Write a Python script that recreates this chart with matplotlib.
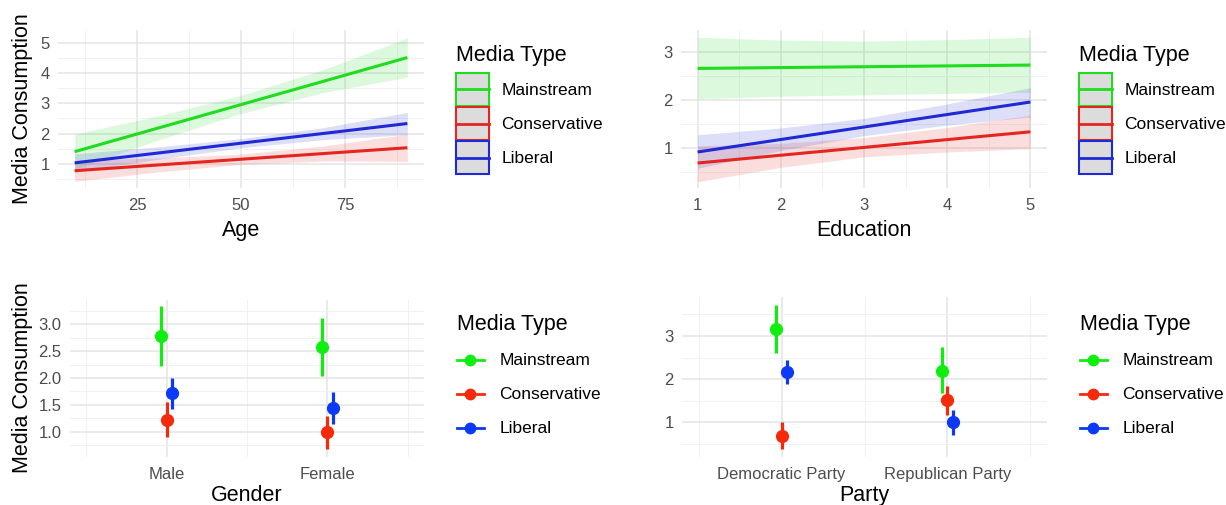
import numpy as np
import matplotlib.pyplot as plt
from matplotlib.patches import Patch, Rectangle
from matplotlib.lines import Line2D
from matplotlib.legend_handler import HandlerBase

plt.rcParams['font.family'] = ['Liberation Sans', 'DejaVu Sans']

#### DATA #####
media_types = ['Mainstream', 'Conservative', 'Liberal']
line_colors = ['#1fdc1f', '#e4261f', '#1f2ad6']
point_colors = ['#10ee10', '#f52a0a', '#0a3af5']

# Age panel: fitted lines (end points) and confidence bands
age_fit_x = [10, 90]
age_main_fit = [1.40, 4.51]
age_con_fit = [0.77, 1.53]
age_lib_fit = [1.03, 2.33]
age_band_x = [10, 30, 50, 70, 90]
age_main_lo = [0.82, 1.78, 2.66, 3.36, 3.86]
age_main_hi = [1.98, 2.58, 3.26, 4.12, 5.16]
age_con_lo = [0.42, 0.73, 0.98, 1.09, 1.08]
age_con_hi = [1.12, 1.19, 1.32, 1.59, 1.98]
age_lib_lo = [0.73, 1.15, 1.53, 1.80, 1.96]
age_lib_hi = [1.33, 1.56, 1.83, 2.20, 2.70]

# Education panel
edu_fit_x = [1, 5]
edu_main_fit = [2.66, 2.73]
edu_con_fit = [0.69, 1.34]
edu_lib_fit = [0.92, 1.96]
edu_band_x = [1, 2, 3, 4, 5]
edu_main_lo = [2.03, 2.08, 2.11, 2.14, 2.16]
edu_main_hi = [3.31, 3.25, 3.23, 3.26, 3.31]
edu_con_lo = [0.30, 0.60, 0.82, 0.92, 0.99]
edu_con_hi = [1.05, 1.10, 1.22, 1.43, 1.69]
edu_lib_lo = [0.58, 0.95, 1.26, 1.48, 1.65]
edu_lib_hi = [1.28, 1.42, 1.62, 1.92, 2.26]

# Gender panel: estimates with intervals
genders = ['Male', 'Female']
gender_main = [2.78, 2.58]
gender_main_lo = [2.22, 2.03]
gender_main_hi = [3.33, 3.12]
gender_con = [1.22, 0.99]
gender_con_lo = [0.90, 0.68]
gender_con_hi = [1.55, 1.30]
gender_lib = [1.72, 1.45]
gender_lib_lo = [1.43, 1.15]
gender_lib_hi = [2.00, 1.73]

# Party panel
parties = ['Democratic Party', 'Republican Party']
party_main = [3.17, 2.20]
party_main_lo = [2.60, 1.67]
party_main_hi = [3.72, 2.75]
party_con = [0.68, 1.52]
party_con_lo = [0.38, 1.18]
party_con_hi = [1.00, 1.85]
party_lib = [2.17, 1.00]
party_lib_lo = [1.88, 0.72]
party_lib_hi = [2.45, 1.28]

W, H = 1226, 505
fig = plt.figure(figsize=(W / 100, H / 100), dpi=100)


class BoxKey(HandlerBase):
	"""ggplot style key: grey box with coloured border and a line through the middle"""
	def create_artists(self, legend, orig_handle, xdescent, ydescent, width, height, fontsize, trans):
		c = orig_handle.get_edgecolor()
		rect = Rectangle((-xdescent, -ydescent), width, height, facecolor='#dcdcdc',
			edgecolor=c, lw=1.5, transform=trans)
		ymid = -ydescent + height / 2
		line = Line2D([-xdescent, -xdescent + width], [ymid, ymid], color=c, lw=2, transform=trans)
		return [rect, line]


class PointKey(HandlerBase):
	"""Horizontal line with a dot in the middle"""
	def create_artists(self, legend, orig_handle, xdescent, ydescent, width, height, fontsize, trans):
		c = orig_handle.get_color()
		ymid = -ydescent + height / 2
		line = Line2D([-xdescent, -xdescent + width], [ymid, ymid], color=c, lw=2, transform=trans)
		dot = Line2D([-xdescent + width / 2], [ymid], color=c, marker='o', ms=7.5,
			ls='none', transform=trans)
		return [line, dot]


def px_axes(left, top, right, bottom):
	return fig.add_axes([left / W, 1 - bottom / H, (right - left) / W, (bottom - top) / H])


def style(ax, xlim, ylim, ymaj, ymin, xmaj=None, xmin=None, xlabels=None):
	ax.set_xlim(xlim)
	ax.set_ylim(ylim)
	ax.set_yticks(ymaj)
	ax.set_yticks(ymin, minor=True)
	if xmaj is not None:
		ax.set_xticks(xmaj)
		if xlabels is not None:
			ax.set_xticklabels(xlabels)
	if xmin is not None:
		ax.set_xticks(xmin, minor=True)
	ax.grid(which='major', color='#e4e4e4', lw=1.1)
	ax.grid(which='minor', color='#efefef', lw=0.6)
	ax.set_axisbelow(True)
	for s in ax.spines.values():
		s.set_visible(False)
	ax.tick_params(which='both', length=0, labelsize=12, labelcolor='#4d4d4d')
	ax.tick_params(axis='x', pad=7.5)
	ax.tick_params(axis='y', pad=6)


def xlabel(ax, text, cx, top):
	ax.set_xlabel(text, fontsize=15.5)
	ax.xaxis.set_label_coords(cx / W, 1 - top / H, transform=fig.transFigure)


def ylabel(ax, text, right, cy):
	ax.set_ylabel(text, fontsize=15.5)
	ax.yaxis.set_label_coords(right / W, 1 - cy / H, transform=fig.transFigure)


def band_panel(ax, fit_x, fits, band_x, los, his):
	for lo, hi, c in zip(los, his, line_colors):
		ax.fill_between(band_x, lo, hi, color=c, alpha=0.15, lw=0)
	for f, c in zip(fits, line_colors):
		ax.plot(fit_x, f, color=c, lw=2.2, solid_capstyle='butt')


def point_panel(ax, ests, los, his):
	pos = np.arange(1, 3)
	offsets = [-0.034, 0.0, 0.034]
	for est, lo, hi, c, off in zip(ests, los, his, point_colors, offsets):
		est = np.array(est)
		err = [est - np.array(lo), np.array(hi) - est]
		ax.errorbar(pos + off, est, yerr=err, fmt='o', color=c, ms=8.5,
			elinewidth=2.3, capsize=0)


def media_legend(ax, handles, handler, hlen, pad, x, y, sep):
	leg = ax.legend(handles, media_types, title='Media Type', loc='upper left',
		bbox_to_anchor=(x / W, 1 - y / H), bbox_transform=fig.transFigure,
		frameon=False, fontsize=12.5, title_fontsize=15.5, handlelength=hlen,
		handleheight=2.55, labelspacing=0.06, handletextpad=pad, borderpad=0,
		borderaxespad=0, alignment='left', handler_map={type(handles[0]): handler})
	# extra room between title and keys, like ggplot
	leg._legend_box.sep = sep
	return leg


def band_legend(ax, x, y):
	handles = [Patch(facecolor='#dcdcdc', edgecolor=c) for c in line_colors]
	media_legend(ax, handles, BoxKey(), 1.9, 0.7, x, y, 5)


def point_legend(ax, x, y):
	handles = [Line2D([], [], color=c) for c in point_colors]
	media_legend(ax, handles, PointKey(), 1.55, 0.9, x, y, 6)


# Age
ax1 = px_axes(58, 30, 424, 188)
band_panel(ax1, age_fit_x, [age_main_fit, age_con_fit, age_lib_fit], age_band_x,
	[age_main_lo, age_con_lo, age_lib_lo], [age_main_hi, age_con_hi, age_lib_hi])
style(ax1, (6, 94), (0.2, 5.42), [1, 2, 3, 4, 5], [0.5, 1.5, 2.5, 3.5, 4.5],
	[25, 50, 75], [12.5, 37.5, 62.5, 87.5])
xlabel(ax1, 'Age', 241, 220)
ylabel(ax1, 'Media Consumption', 33, 109)
band_legend(ax1, 456, 45)

# Education
ax2 = px_axes(681, 30, 1047, 188)
band_panel(ax2, edu_fit_x, [edu_main_fit, edu_con_fit, edu_lib_fit], edu_band_x,
	[edu_main_lo, edu_con_lo, edu_lib_lo], [edu_main_hi, edu_con_hi, edu_lib_hi])
style(ax2, (0.8, 5.2), (0.17, 3.46), [1, 2, 3], [0.5, 1.5, 2.5],
	[1, 2, 3, 4, 5], [1.5, 2.5, 3.5, 4.5])
xlabel(ax2, 'Education', 864, 220)
band_legend(ax2, 1079, 45)

# Gender
ax3 = px_axes(70, 300, 424, 457)
point_panel(ax3, [gender_main, gender_con, gender_lib],
	[gender_main_lo, gender_con_lo, gender_lib_lo], [gender_main_hi, gender_con_hi, gender_lib_hi])
style(ax3, (0.4, 2.6), (0.53, 3.45), [1.0, 1.5, 2.0, 2.5, 3.0],
	[0.75, 1.25, 1.75, 2.25, 2.75, 3.25], [1, 2], [0.5, 1.5, 2.5], genders)
ax3.set_yticklabels(['1.0', '1.5', '2.0', '2.5', '3.0'])
xlabel(ax3, 'Gender', 247, 485)
ylabel(ax3, 'Media Consumption', 33, 378)
point_legend(ax3, 457, 314)

# Party
ax4 = px_axes(682, 297, 1047, 457)
point_panel(ax4, [party_main, party_con, party_lib],
	[party_main_lo, party_con_lo, party_lib_lo], [party_main_hi, party_con_hi, party_lib_hi])
style(ax4, (0.4, 2.6), (0.2, 3.9), [1, 2, 3], [0.5, 1.5, 2.5, 3.5],
	[1, 2], [0.5, 1.5, 2.5], parties)
xlabel(ax4, 'Party', 864, 485)
point_legend(ax4, 1080, 314)

fig.savefig('out.png', dpi=100)
